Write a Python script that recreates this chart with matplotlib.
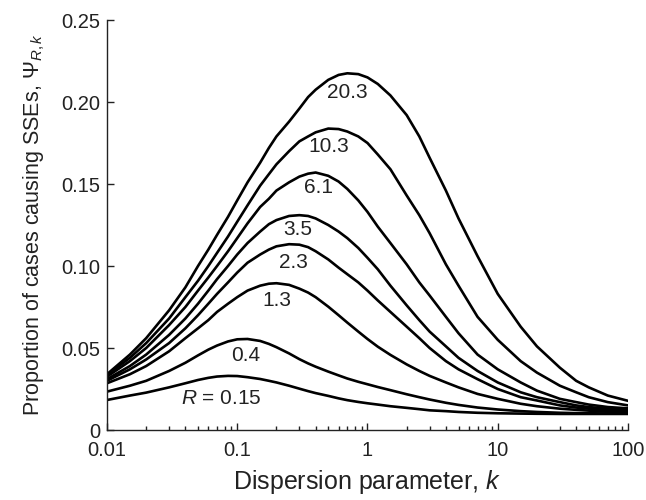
import matplotlib.pyplot as plt
from matplotlib.ticker import FixedLocator, LogLocator, NullFormatter

plt.rcParams['font.family'] = ['Liberation Sans', 'DejaVu Sans']
plt.rcParams['mathtext.fontset'] = 'custom'
plt.rcParams['mathtext.rm'] = 'Liberation Sans'
plt.rcParams['mathtext.it'] = 'Liberation Sans:italic'

# dispersion parameter k (values read at these points)
k = [0.01, 0.015, 0.02, 0.03, 0.04, 0.05, 0.06, 0.07, 0.085, 0.1, 0.12, 0.15, 0.175, 0.2, 0.25,
     0.3, 0.35, 0.4, 0.5, 0.6, 0.7, 0.85, 1, 1.2, 1.5, 2, 2.5, 3, 4, 5, 7, 10, 15, 20, 30, 40, 50, 70, 100]

# proportion of cases causing SSEs, one list per R
psi_20_3 = [0.034, 0.046, 0.056, 0.073, 0.087, 0.100, 0.110, 0.119, 0.130, 0.140, 0.151, 0.163, 0.172, 0.179, 0.188,
            0.196, 0.203, 0.2075, 0.2135, 0.2165, 0.2175, 0.217, 0.215, 0.211, 0.204, 0.192, 0.179, 0.166, 0.146, 0.129,
            0.106, 0.083, 0.063, 0.051, 0.038, 0.030, 0.026, 0.021, 0.0178]
psi_10_3 = [0.0335, 0.044, 0.053, 0.068, 0.081, 0.091, 0.100, 0.108, 0.118, 0.127, 0.137, 0.149, 0.156, 0.162, 0.170,
            0.176, 0.179, 0.1815, 0.1838, 0.1835, 0.182, 0.179, 0.175, 0.168, 0.159, 0.143, 0.131, 0.120, 0.101, 0.088,
            0.069, 0.055, 0.042, 0.035, 0.027, 0.023, 0.020, 0.017, 0.015]
psi_6_1 = [0.0325, 0.042, 0.050, 0.064, 0.075, 0.085, 0.093, 0.100, 0.109, 0.117, 0.126, 0.136, 0.141, 0.146, 0.151,
           0.1545, 0.1563, 0.157, 0.155, 0.1515, 0.147, 0.140, 0.133, 0.124, 0.114, 0.101, 0.090, 0.082, 0.069, 0.059,
           0.046, 0.037, 0.029, 0.024, 0.019, 0.017, 0.0155, 0.014, 0.0132]
psi_3_5 = [0.031, 0.039, 0.046, 0.058, 0.068, 0.077, 0.085, 0.092, 0.100, 0.107, 0.114, 0.121, 0.1255, 0.128, 0.1305,
           0.131, 0.1305, 0.129, 0.125, 0.121, 0.117, 0.111, 0.105, 0.098, 0.088, 0.076, 0.067, 0.060, 0.051, 0.044,
           0.036, 0.029, 0.023, 0.020, 0.017, 0.015, 0.014, 0.013, 0.0122]
psi_2_3 = [0.030, 0.037, 0.043, 0.053, 0.062, 0.070, 0.077, 0.083, 0.090, 0.096, 0.102, 0.107, 0.110, 0.112, 0.1133,
           0.113, 0.1115, 0.109, 0.104, 0.099, 0.095, 0.090, 0.085, 0.079, 0.072, 0.063, 0.056, 0.050, 0.042, 0.037,
           0.031, 0.025, 0.020, 0.018, 0.015, 0.0137, 0.013, 0.012, 0.0116]
psi_1_3 = [0.0285, 0.034, 0.039, 0.048, 0.056, 0.062, 0.067, 0.072, 0.077, 0.081, 0.085, 0.088, 0.0892, 0.0895, 0.0885,
           0.0862, 0.0838, 0.0810, 0.0752, 0.0700, 0.0655, 0.0600, 0.0555, 0.0508, 0.0458, 0.0400, 0.0360, 0.0330, 0.029, 0.026,
           0.022, 0.019, 0.016, 0.0145, 0.013, 0.0123, 0.0118, 0.0112, 0.011]
psi_0_4 = [0.0234, 0.027, 0.030, 0.036, 0.041, 0.0455, 0.049, 0.0515, 0.054, 0.0553, 0.0555, 0.0543, 0.0525, 0.0505, 0.0467,
           0.0432, 0.0406, 0.0386, 0.0356, 0.0333, 0.0314, 0.0294, 0.0279, 0.0262, 0.0243, 0.0218, 0.0200, 0.0186, 0.0166, 0.0153,
           0.0137, 0.0125, 0.0115, 0.011, 0.0105, 0.0103, 0.0102, 0.0101, 0.010]
psi_0_15 = [0.0183, 0.021, 0.0228, 0.026, 0.0285, 0.0305, 0.0318, 0.0326, 0.0330, 0.0329, 0.0322, 0.0311, 0.0300, 0.0290, 0.0270,
            0.0252, 0.0237, 0.0225, 0.0208, 0.0193, 0.0182, 0.0171, 0.0163, 0.0155, 0.0145, 0.0135, 0.0127, 0.0120, 0.0115, 0.011,
            0.0105, 0.0102, 0.0100, 0.0099, 0.0098, 0.0098, 0.0098, 0.0098, 0.0098]

curves = [psi_20_3, psi_10_3, psi_6_1, psi_3_5, psi_2_3, psi_1_3, psi_0_4, psi_0_15]
labels = ['20.3', '10.3', '6.1', '3.5', '2.3', '1.3', '0.4', '$R$ = 0.15']
label_k = [0.70, 0.50, 0.42, 0.29, 0.27, 0.20, 0.117, 0.075]
label_y = [0.206, 0.1726, 0.1476, 0.122, 0.1024, 0.0787, 0.0457, 0.0195]

fig = plt.figure(figsize=(6.46, 5.0), dpi=100)
ax = fig.add_axes([0.1656, 0.14, 0.8065, 0.82])

for psi in curves:
    ax.plot(k, psi, color='black', lw=1.9, solid_joinstyle='round')

for lab, lx, ly in zip(labels, label_k, label_y):
    ax.text(lx, ly, lab, ha='center', va='center', fontsize=15, color='#222222')

ax.set_xscale('log')
ax.set_xlim(0.01, 100)
ax.set_ylim(0, 0.25)
ax.set_xticks([0.01, 0.1, 1, 10, 100])
ax.set_xticklabels(['0.01', '0.1', '1', '10', '100'])
ax.xaxis.set_minor_locator(LogLocator(base=10, subs=range(2, 10)))
ax.xaxis.set_minor_formatter(NullFormatter())
ax.yaxis.set_major_locator(FixedLocator([0, 0.05, 0.10, 0.15, 0.20, 0.25]))
ax.set_yticklabels(['0', '0.05', '0.10', '0.15', '0.20', '0.25'])

ax.tick_params(axis='both', which='major', direction='in', length=5, width=1,
               labelsize=14.5, colors='#222222')
ax.tick_params(axis='x', which='major', pad=8)
ax.tick_params(axis='y', which='major', pad=5)
ax.tick_params(axis='x', which='minor', direction='in', length=3, width=1, colors='#222222')
ax.spines['top'].set_visible(False)
ax.spines['right'].set_visible(False)
for s in ['left', 'bottom']:
    ax.spines[s].set_linewidth(1.0)
    ax.spines[s].set_color('#222222')

ax.set_xlabel('Dispersion parameter, $k$', fontsize=18, color='#222222', labelpad=6)
ax.set_ylabel(r'Proportion of cases causing SSEs, $\Psi_{R,k}$', fontsize=15.5, color='#222222', labelpad=10)

fig.savefig('out.png', dpi=100)
